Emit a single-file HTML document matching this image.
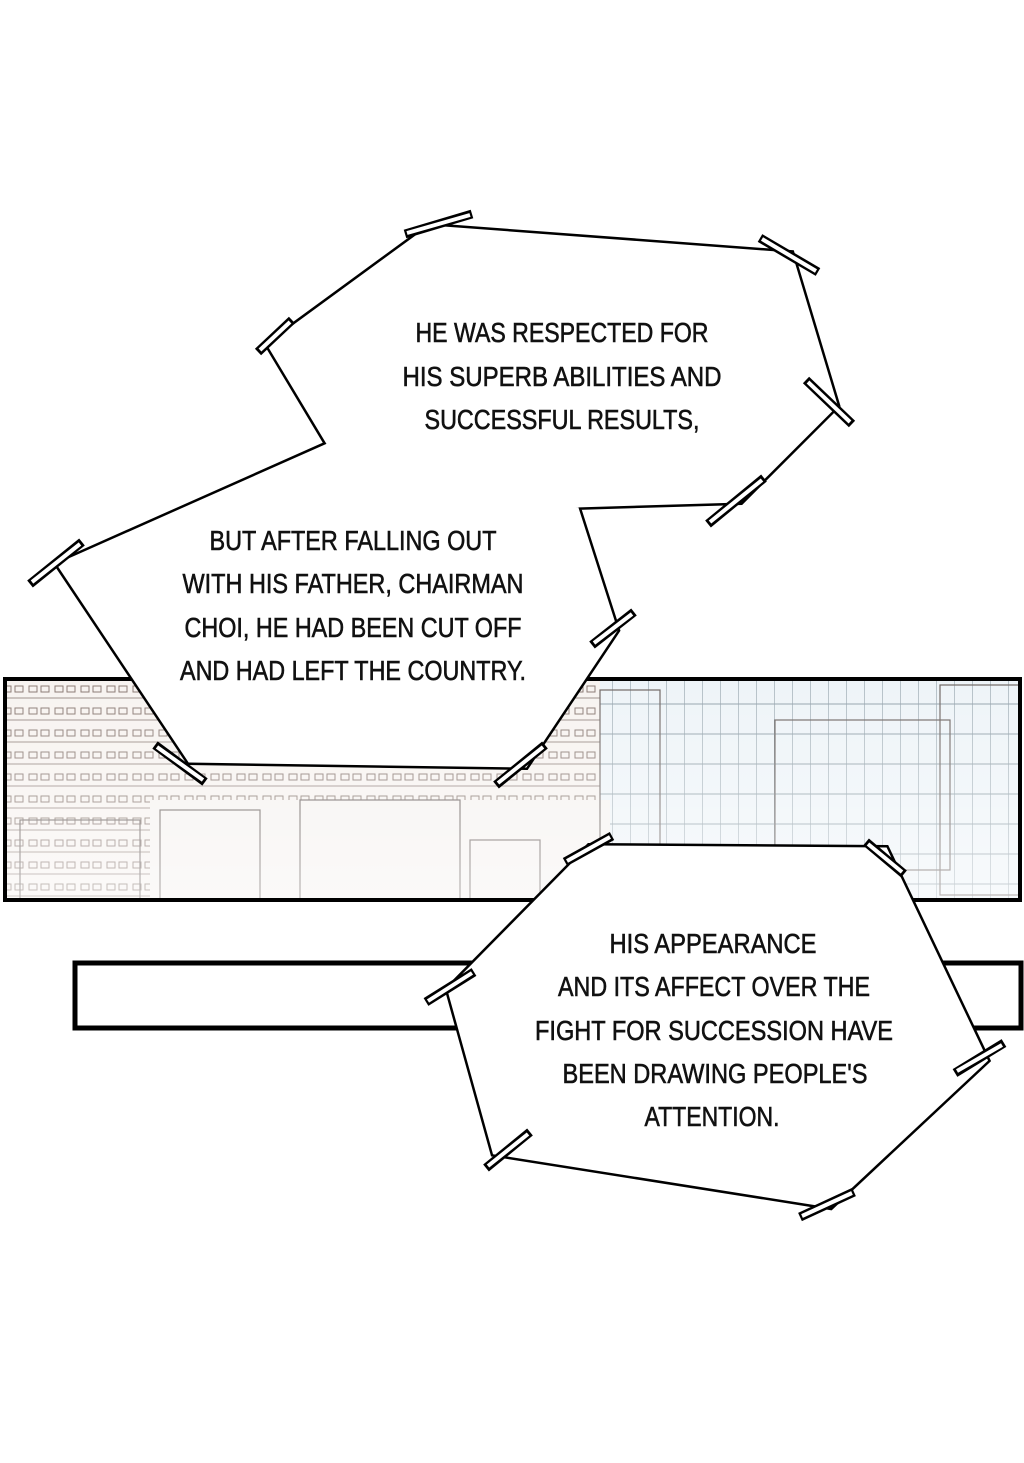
<!DOCTYPE html>
<html><head><meta charset="utf-8"><style>
html,body{margin:0;padding:0;background:#fff;width:1024px;height:1463px;overflow:hidden}
svg{display:block}
text{font-family:"Liberation Sans",sans-serif;font-size:28px;fill:#111;stroke:#111;stroke-width:0.6;text-anchor:middle}
</style></head><body>
<svg width="1024" height="1463" viewBox="0 0 1024 1463" xmlns="http://www.w3.org/2000/svg">
<defs>
<pattern id="bld" width="26" height="22" patternUnits="userSpaceOnUse">
<rect width="26" height="22" fill="#f7f3f0"/>
<rect x="3" y="4" width="8" height="6" fill="none" stroke="#8a7a74" stroke-width="1"/>
<rect x="15" y="4" width="8" height="6" fill="none" stroke="#8a7a74" stroke-width="1"/>
<line x1="0" y1="16" x2="26" y2="16" stroke="#9a8d88" stroke-width="1"/>
</pattern>
<pattern id="bld2" width="18" height="30" patternUnits="userSpaceOnUse">
<rect width="18" height="30" fill="#eef4f8"/>
<line x1="0" y1="0" x2="0" y2="30" stroke="#7d8e98" stroke-width="1"/>
<line x1="0" y1="14" x2="18" y2="14" stroke="#93a2ab" stroke-width="1"/>
</pattern>
<linearGradient id="fade" x1="0" y1="0" x2="0" y2="1">
<stop offset="0" stop-color="#fff" stop-opacity="0"/><stop offset="1" stop-color="#fff" stop-opacity="0.55"/>
</linearGradient>
</defs>
<rect width="1024" height="1463" fill="#fff"/>
<rect x="5" y="679" width="1015" height="221" fill="url(#bld)"/>
<rect x="600" y="679" width="420" height="221" fill="url(#bld2)"/>
<rect x="150" y="800" width="460" height="100" fill="#f6f3f1"/>
<g fill="none" stroke="#6f6663" stroke-width="1.2">
<rect x="20" y="820" width="120" height="80"/><rect x="160" y="810" width="100" height="90"/>
<rect x="300" y="800" width="160" height="100"/><rect x="470" y="840" width="70" height="60"/>
<rect x="600" y="690" width="60" height="170"/><rect x="775" y="720" width="175" height="150"/>
<rect x="940" y="685" width="80" height="210"/>
</g>
<rect x="5" y="679" width="1015" height="221" fill="url(#fade)"/>
<rect x="5" y="679" width="1015" height="221" fill="none" stroke="#000" stroke-width="4"/>
<rect x="75" y="963" width="946" height="65" fill="#fff" stroke="#000" stroke-width="5"/>
<g stroke-linejoin="miter">
<path d="M430,228 L790,255 L835,405 L740,500 L575,505 L615,630 L525,765 L190,760 L60,565 L330,445 L270,345 Z" fill="#fff" stroke="#000" stroke-width="10"/>
<path d="M590,848 L885,850 L985,1060 L830,1205 L495,1152 L450,990 Z" fill="#fff" stroke="#000" stroke-width="10"/>
<path d="M430,228 L790,255 L835,405 L740,500 L575,505 L615,630 L525,765 L190,760 L60,565 L330,445 L270,345 Z" fill="#fff" stroke="#fff" stroke-width="5"/>
<path d="M590,848 L885,850 L985,1060 L830,1205 L495,1152 L450,990 Z" fill="#fff" stroke="#fff" stroke-width="5"/>
</g>
<g stroke="#000" stroke-width="9" stroke-linecap="butt">
<line x1="405" y1="234" x2="472" y2="214"/><line x1="760" y1="238" x2="818" y2="272"/>
<line x1="258" y1="352" x2="292" y2="320"/><line x1="806" y1="380" x2="852" y2="424"/>
<line x1="708" y1="524" x2="764" y2="478"/><line x1="30" y1="584" x2="82" y2="542"/>
<line x1="592" y1="645" x2="634" y2="612"/><line x1="155" y1="745" x2="205" y2="782"/>
<line x1="496" y1="785" x2="545" y2="745"/><line x1="565" y1="862" x2="612" y2="836"/>
<line x1="866" y1="842" x2="904" y2="874"/><line x1="426" y1="1002" x2="474" y2="972"/>
<line x1="955" y1="1073" x2="1004" y2="1043"/><line x1="486" y1="1168" x2="530" y2="1132"/>
<line x1="800" y1="1217" x2="854" y2="1192"/>
</g>
<g stroke="#fff" stroke-width="4" stroke-linecap="butt">
<line x1="407" y1="233" x2="470" y2="215"/><line x1="762" y1="239" x2="816" y2="271"/>
<line x1="260" y1="350" x2="290" y2="322"/><line x1="808" y1="382" x2="850" y2="422"/>
<line x1="710" y1="522" x2="762" y2="480"/><line x1="32" y1="582" x2="80" y2="544"/>
<line x1="594" y1="643" x2="632" y2="614"/><line x1="157" y1="747" x2="203" y2="780"/>
<line x1="498" y1="783" x2="543" y2="747"/><line x1="567" y1="861" x2="610" y2="837"/>
<line x1="868" y1="844" x2="902" y2="872"/><line x1="428" y1="1001" x2="472" y2="973"/>
<line x1="957" y1="1071" x2="1002" y2="1045"/><line x1="488" y1="1166" x2="528" y2="1134"/>
<line x1="802" y1="1216" x2="852" y2="1193"/>
</g>
<text x="562" y="342" textLength="293" lengthAdjust="spacingAndGlyphs">HE WAS RESPECTED FOR</text>
<text x="562" y="386" textLength="319" lengthAdjust="spacingAndGlyphs">HIS SUPERB ABILITIES AND</text>
<text x="562" y="429" textLength="275" lengthAdjust="spacingAndGlyphs">SUCCESSFUL RESULTS,</text>
<text x="353" y="550" textLength="287" lengthAdjust="spacingAndGlyphs">BUT AFTER FALLING OUT</text>
<text x="353" y="593" textLength="341" lengthAdjust="spacingAndGlyphs">WITH HIS FATHER, CHAIRMAN</text>
<text x="353" y="637" textLength="337" lengthAdjust="spacingAndGlyphs">CHOI, HE HAD BEEN CUT OFF</text>
<text x="353" y="680" textLength="346" lengthAdjust="spacingAndGlyphs">AND HAD LEFT THE COUNTRY.</text>
<text x="713" y="953" textLength="207" lengthAdjust="spacingAndGlyphs">HIS APPEARANCE</text>
<text x="714" y="996" textLength="312" lengthAdjust="spacingAndGlyphs">AND ITS AFFECT OVER THE</text>
<text x="714" y="1040" textLength="358" lengthAdjust="spacingAndGlyphs">FIGHT FOR SUCCESSION HAVE</text>
<text x="715" y="1083" textLength="305" lengthAdjust="spacingAndGlyphs">BEEN DRAWING PEOPLE'S</text>
<text x="712" y="1126" textLength="135" lengthAdjust="spacingAndGlyphs">ATTENTION.</text>
</svg>
</body></html>
